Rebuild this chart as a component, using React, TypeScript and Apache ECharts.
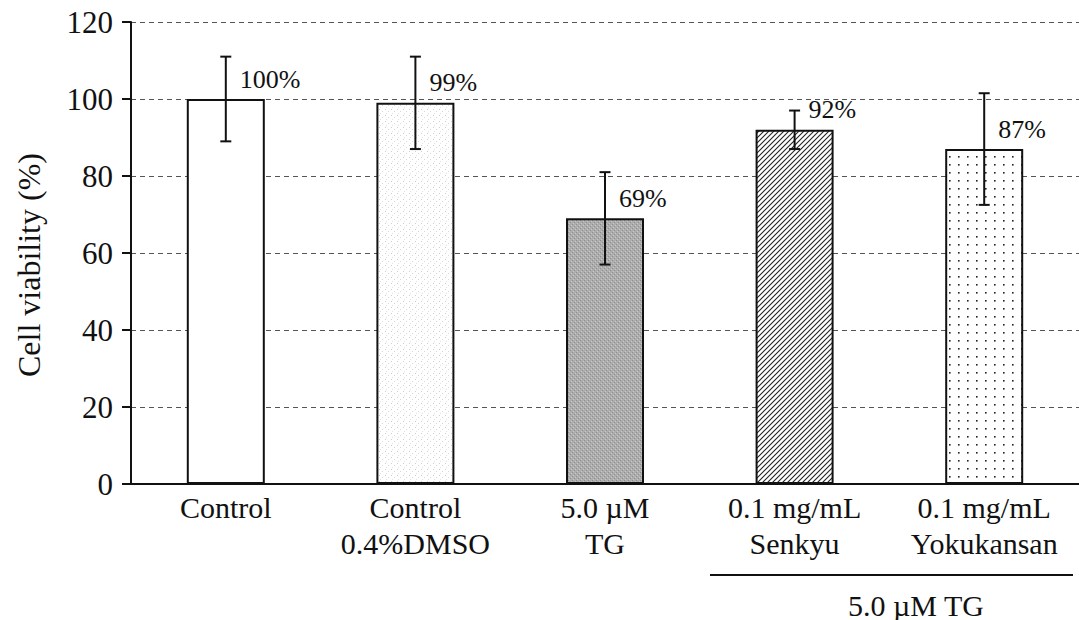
import React, { useEffect, useRef } from "react";
import * as echarts from "echarts";

const categories = [
  "Control",
  "Control\n0.4%DMSO",
  "5.0 \u00b5M\nTG",
  "0.1 mg/mL\nSenkyu",
  "0.1 mg/mL\nYokukansan",
];
const viability = [100, 99, 69, 92, 87];
const errors = [11, 12, 12, 5, 14.5];
const valueLabels = ["100%", "99%", "69%", "92%", "87%"];
const groupLabel = "5.0 \u00b5M TG";
const yAxisName = "Cell viability (%)";

const SERIF = "Liberation Serif, serif";

function tile(w: number, h: number, draw: (ctx: CanvasRenderingContext2D) => void) {
  const c = document.createElement("canvas");
  c.width = w;
  c.height = h;
  const ctx = c.getContext("2d")!;
  ctx.fillStyle = "#ffffff";
  ctx.fillRect(0, 0, w, h);
  draw(ctx);
  return c;
}

function makePatterns() {
  const white = "#ffffff";
  const dmso = tile(6, 6, (ctx) => {
    ctx.fillStyle = "#cfcfcf";
    ctx.fillRect(1, 1, 1, 1);
    ctx.fillStyle = "#dadada";
    ctx.fillRect(4, 3, 1, 1);
    ctx.fillStyle = "#e2e2e2";
    ctx.fillRect(2, 5, 1, 1);
  });
  const tg = tile(4, 4, (ctx) => {
    ctx.fillStyle = "#adadad";
    ctx.fillRect(0, 0, 4, 4);
    ctx.fillStyle = "#8e8e8e";
    ctx.fillRect(0, 0, 1, 1);
    ctx.fillRect(2, 2, 1, 1);
    ctx.fillStyle = "#c6c6c6";
    ctx.fillRect(3, 1, 1, 1);
    ctx.fillRect(1, 3, 1, 1);
  });
  const hatch = tile(5, 5, (ctx) => {
    ctx.strokeStyle = "#222222";
    ctx.lineWidth = 1.1;
    ctx.beginPath();
    ctx.moveTo(0, 5);
    ctx.lineTo(5, 0);
    ctx.moveTo(-1, 1);
    ctx.lineTo(1, -1);
    ctx.moveTo(4, 6);
    ctx.lineTo(6, 4);
    ctx.stroke();
  });
  const dots = tile(9, 8, (ctx) => {
    ctx.fillStyle = "#222222";
    ctx.fillRect(4, 4, 1.6, 1.6);
  });
  return [
    white,
    { image: dmso, repeat: "repeat" },
    { image: tg, repeat: "repeat" },
    { image: hatch, repeat: "repeat" },
    { image: dots, repeat: "repeat" },
  ];
}

export default function App() {
  const ref = useRef<HTMLDivElement>(null);

  useEffect(() => {
    if (!ref.current) return;
    const chart = echarts.init(ref.current, null, { renderer: "svg" });
    const fills = makePatterns();

    const option: any = {
      animation: false,
      backgroundColor: "#ffffff",
      textStyle: { fontFamily: SERIF },
      grid: { left: 131, top: 22, height: 462, width: 959 },
      xAxis: {
        type: "category",
        data: categories,
        boundaryGap: true,
        axisLine: { show: true, lineStyle: { color: "#111", width: 2 } },
        axisTick: { show: false },
        axisLabel: {
          interval: 0,
          margin: 5,
          color: "#111",
          fontFamily: SERIF,
          fontSize: 30,
          lineHeight: 36,
        },
        splitLine: { show: false },
      },
      yAxis: {
        type: "value",
        min: 0,
        max: 120,
        interval: 20,
        name: yAxisName,
        nameLocation: "middle",
        nameGap: 86,
        nameRotate: 90,
        nameTextStyle: {
          color: "#111",
          fontFamily: SERIF,
          fontSize: 32,
          padding: [0, 24, 0, 0],
        },
        axisLine: { show: true, lineStyle: { color: "#111", width: 2 } },
        axisTick: { show: true, inside: false, length: 9, lineStyle: { color: "#111", width: 2 } },
        axisLabel: {
          margin: 18,
          color: "#111",
          fontFamily: SERIF,
          fontSize: 31,
        },
        splitLine: {
          show: true,
          lineStyle: { color: "#555", width: 1, type: [5, 4] },
        },
      },
      series: [
        {
          type: "bar",
          barWidth: 78,
          data: viability.map((v, i) => ({
            value: v,
            itemStyle: { color: fills[i], borderColor: "#111", borderWidth: 2 },
          })),
          z: 2,
        },
        {
          type: "custom",
          z: 5,
          data: viability.map((v, i) => [i, v, errors[i]]),
          encode: { x: 0, y: 1 },
          renderItem: (params: any, api: any) => {
            const i = api.value(0);
            const m = api.value(1);
            const e = api.value(2);
            const top = api.coord([i, m + e]);
            const bot = api.coord([i, m - e]);
            const mid = api.coord([i, m]);
            const cap = 5.5;
            const ls = { stroke: "#111", lineWidth: 2 };
            return {
              type: "group",
              children: [
                { type: "line", shape: { x1: top[0], y1: top[1], x2: bot[0], y2: bot[1] }, style: ls },
                { type: "line", shape: { x1: top[0] - cap, y1: top[1], x2: top[0] + cap, y2: top[1] }, style: ls },
                { type: "line", shape: { x1: bot[0] - cap, y1: bot[1], x2: bot[0] + cap, y2: bot[1] }, style: ls },
                {
                  type: "text",
                  x: mid[0] + 14,
                  y: mid[1] - 7,
                  style: {
                    text: valueLabels[params.dataIndex],
                    fill: "#111",
                    fontFamily: SERIF,
                    fontSize: 26,
                    align: "left",
                    verticalAlign: "bottom",
                  },
                },
              ],
            };
          },
        },
      ],
      graphic: [
        {
          type: "line",
          shape: { x1: 710, y1: 575, x2: 1073, y2: 575 },
          style: { stroke: "#111", lineWidth: 2 },
        },
        {
          type: "text",
          x: 916,
          y: 605,
          style: {
            text: groupLabel,
            fill: "#111",
            fontFamily: SERIF,
            fontSize: 30,
            textAlign: "center",
            textVerticalAlign: "middle",
          },
        },
      ],
    };

    chart.setOption(option);
    return () => chart.dispose();
  }, []);

  return (
    <div
      ref={ref}
      style={{ position: "fixed", left: 0, top: 0, width: 1079, height: 620, background: "#fff" }}
    />
  );
}
